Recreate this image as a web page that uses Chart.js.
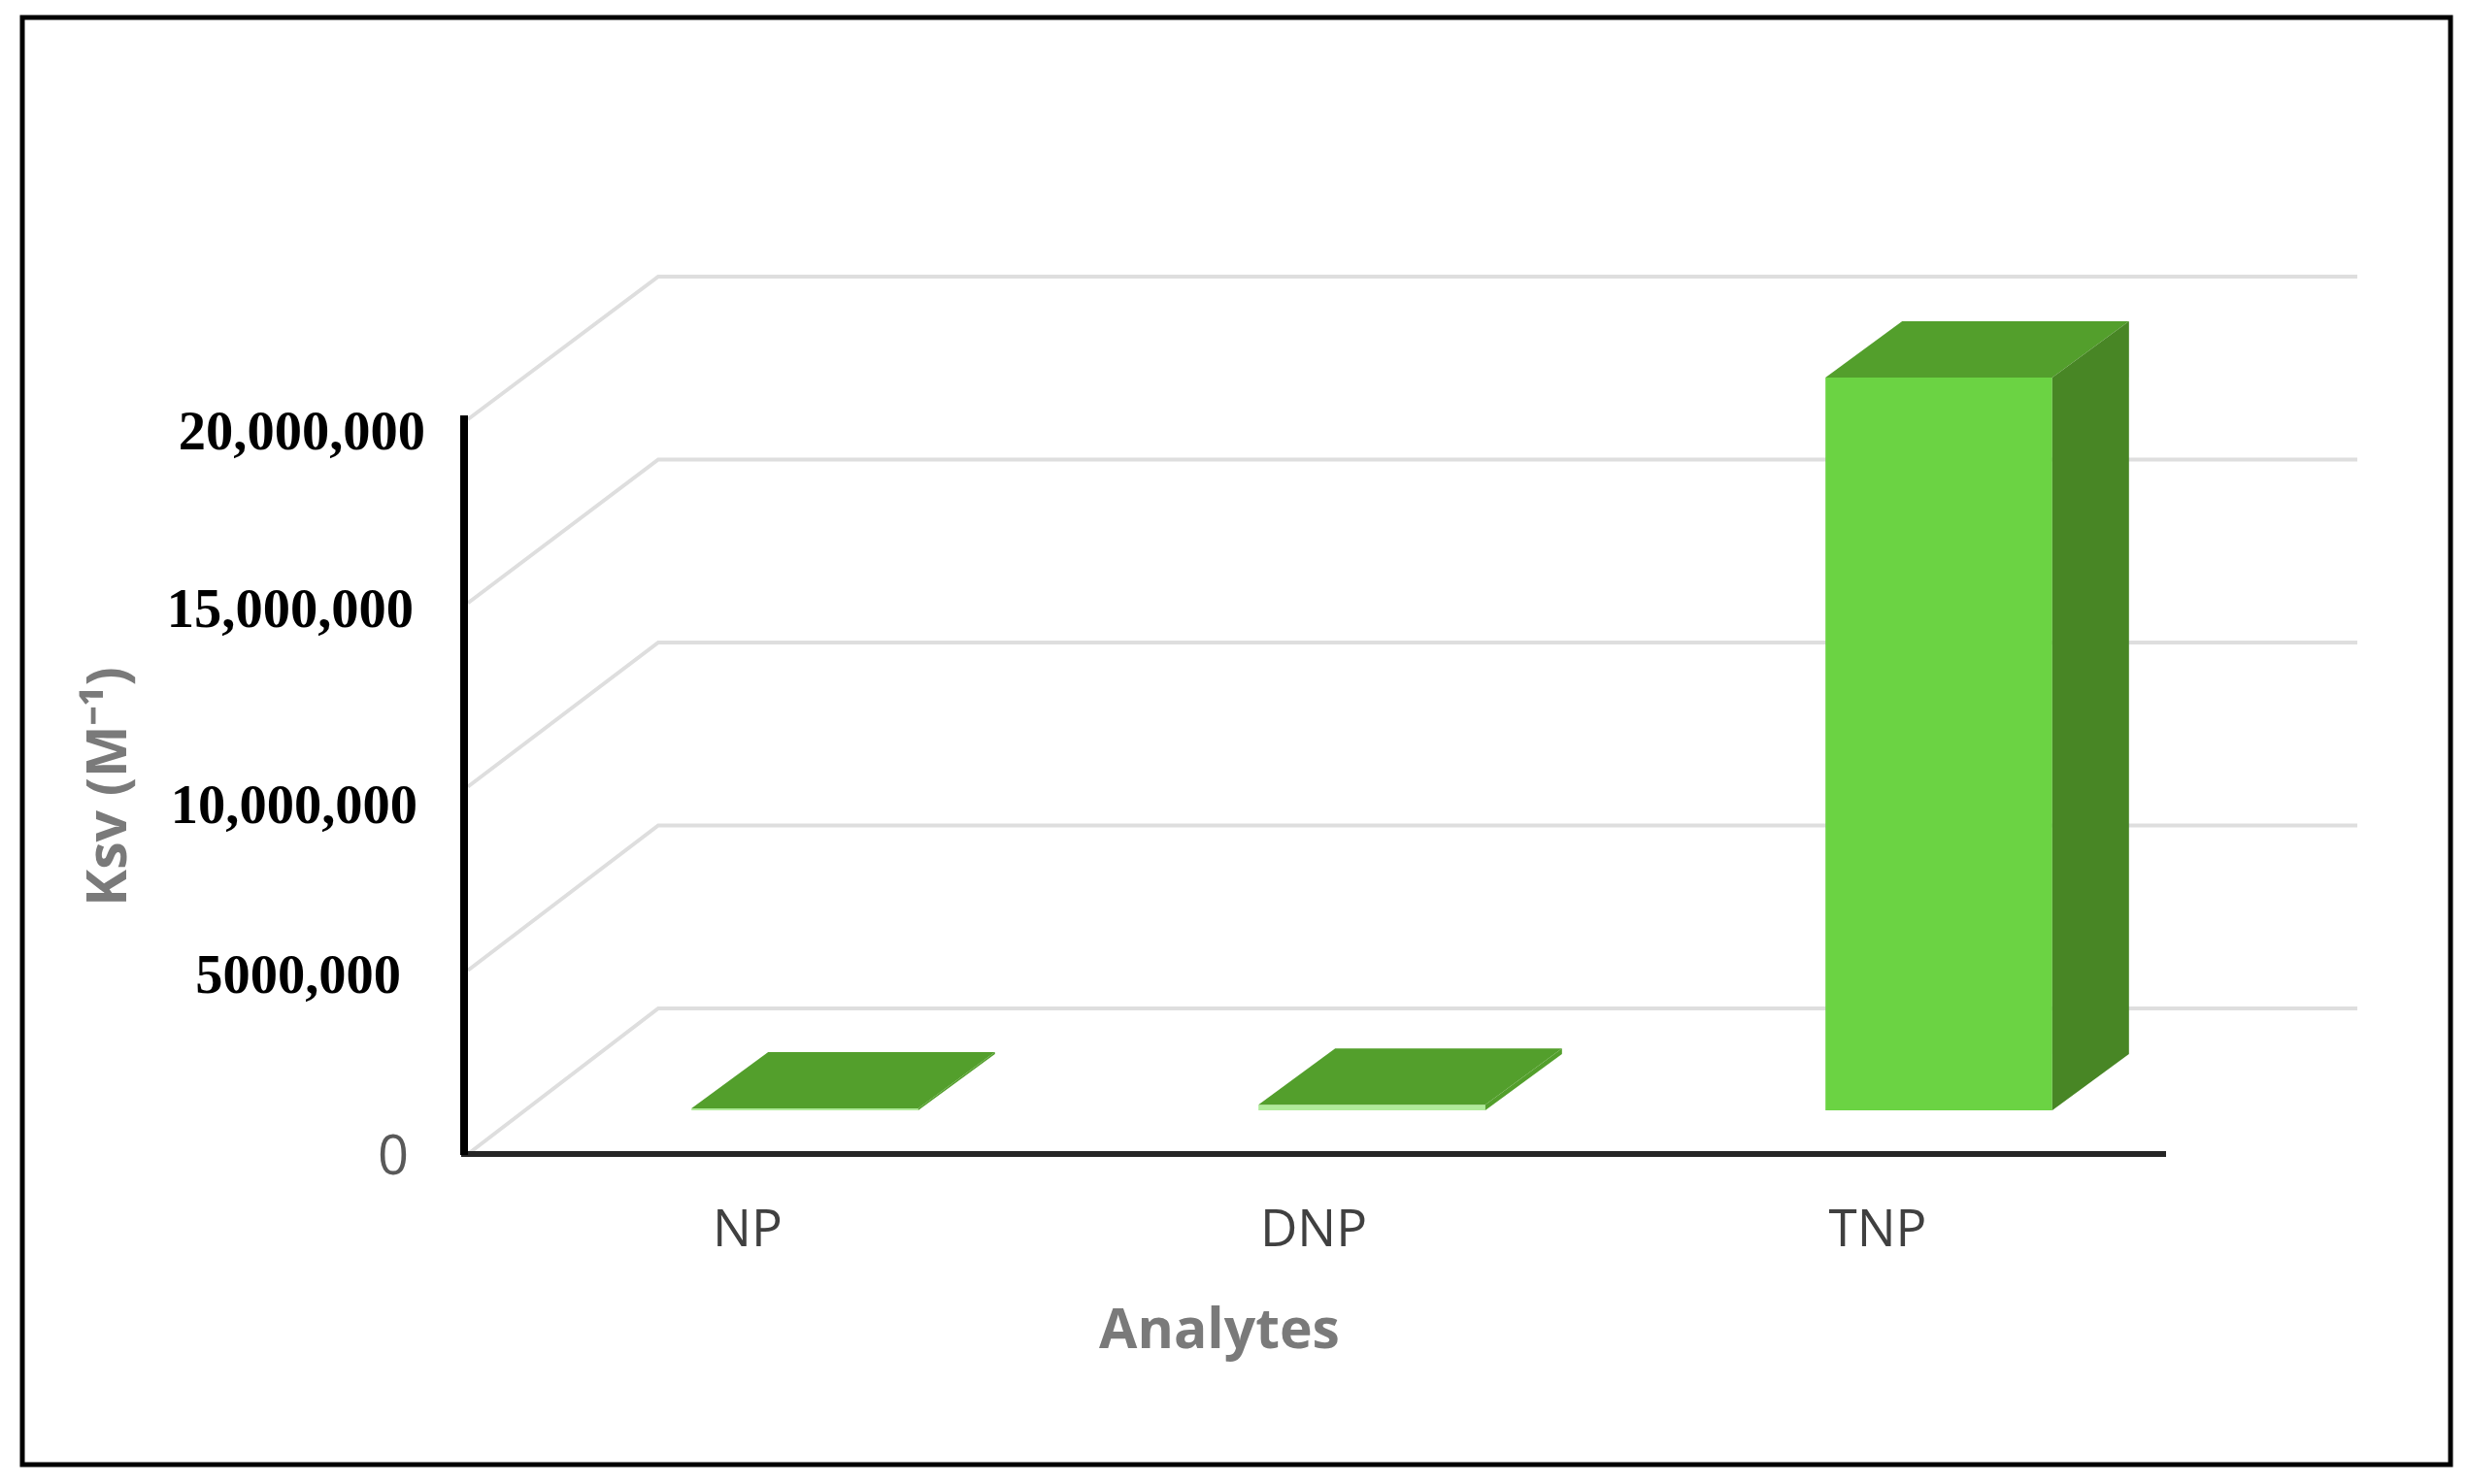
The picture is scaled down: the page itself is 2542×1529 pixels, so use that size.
<!DOCTYPE html>
<html><head><meta charset="utf-8">
<script src="https://cdn.jsdelivr.net/npm/chart.js@4"></script>
<style>html,body{margin:0;padding:0;background:#fff}canvas{display:block;filter:blur(0.6px)}</style>
</head><body><canvas id="c" width="2542" height="1529"></canvas>
<script>
const categories = ['NP', 'DNP', 'TNP'];
const ksvValues = [50000, 150000, 19950000];
const tickLabels = ['0', '5000,000', '10,000,000', '15,000,000', '20,000,000'];
const xTitle = 'Analytes';
const yTitle = 'Ksv (M\u207B\u00B9)';

const tickShift = [[-57, 5], [-65, 9], [-48, 23], [-52, 10], [-40, 16]];
const xTickShift = [0, -1, -4];
const depth = {bx: 59, by: -45, dx: 79, dy: -58, gx: 200, gy: -147, gyScale: 0.996, gridRight: 2428};
const colors = {front: '#6BD343', thin: '#B0EB9A', top: '#539F2C', side: '#488625', grid: '#DEDEDE'};
const thinBarLimit = 10;
const barFills = [colors.thin, colors.thin, colors.front];
const isZero = c => !!c.tick && c.tick.value === 0;

const look3d = {
  id: 'look3d',
  beforeDraw(chart) {
    const {ctx, scales: {x, y}} = chart;
    ctx.save();
    ctx.strokeStyle = '#000'; ctx.lineWidth = 5;
    ctx.strokeRect(23, 18, 2501, 1491);
    ctx.restore();
    // fake depth: lines run from the front plane back along the floor and walls
    const topPx = y.getPixelForValue(y.max);
    ctx.save();
    ctx.strokeStyle = colors.grid; ctx.lineWidth = 4;
    y.ticks.forEach(t => {
      const p = y.getPixelForValue(t.value);
      const back = topPx + depth.gy + (p - topPx) * depth.gyScale;
      ctx.beginPath();
      ctx.moveTo(x.left + 4, p);
      ctx.lineTo(x.left + depth.gx, back);
      ctx.lineTo(depth.gridRight, back);
      ctx.stroke();
    });
    ctx.restore();
    y.getLabelItems().forEach((item, i) => {
      if (item._moved) return;
      item._moved = true;
      item.options.translation[0] += tickShift[i][0];
      item.options.translation[1] += tickShift[i][1];
    });
    x.getLabelItems().forEach((item, i) => {
      if (item._moved) return;
      item._moved = true;
      item.options.translation[0] += xTickShift[i];
    });
  },
  beforeDatasetDraw(chart) {
    chart.ctx.save();
    chart.ctx.translate(depth.bx, depth.by);
  },
  afterDatasetDraw(chart, args) {
    const ctx = chart.ctx;
    args.meta.data.forEach(b => {
      const l = b.x - b.width / 2, r = b.x + b.width / 2, top = b.y, base = b.base;
      ctx.fillStyle = colors.top;
      ctx.beginPath();
      ctx.moveTo(l, top); ctx.lineTo(l + depth.dx, top + depth.dy);
      ctx.lineTo(r + depth.dx, top + depth.dy); ctx.lineTo(r, top);
      ctx.closePath(); ctx.fill();
      ctx.fillStyle = (base - top) < thinBarLimit ? colors.top : colors.side;
      ctx.beginPath();
      ctx.moveTo(r, top); ctx.lineTo(r + depth.dx, top + depth.dy);
      ctx.lineTo(r + depth.dx, base + depth.dy); ctx.lineTo(r, base);
      ctx.closePath(); ctx.fill();
    });
    ctx.restore();
  },
  afterLayout(chart) {
    const x = chart.scales.x;
    if (x._titleShifted) return;
    x._titleShifted = true;
    const orig = x.drawTitle;
    x.drawTitle = function () {
      const c = this.ctx;
      c.save(); c.translate(-98, 0);
      orig.call(this);
      c.restore();
    };
  }
};

new Chart(document.getElementById('c'), {
  type: 'bar',
  data: {
    labels: categories,
    datasets: [{
      label: 'Ksv',
      data: ksvValues,
      backgroundColor: barFills,
      borderWidth: 0,
      categoryPercentage: 1,
      barPercentage: 0.4,
      clip: false
    }]
  },
  plugins: [look3d],
  options: {
    responsive: false,
    animation: false,
    devicePixelRatio: 1,
    layout: {padding: {left: 0, top: 432, right: 312, bottom: 0}},
    plugins: {legend: {display: false}, tooltip: {enabled: false}},
    scales: {
      x: {
        grid: {display: false, drawTicks: false},
        border: {display: true, color: '#262626', width: 6},
        ticks: {font: {family: 'Open Sans', size: 53}, color: '#404040', padding: 48, maxRotation: 0},
        title: {display: true, text: xTitle, color: '#7A7A7A', font: {family: 'Open Sans', size: 57, weight: 'bold'}, padding: {top: 0, bottom: 122}},
        afterFit(s) { s.height = 340; }
      },
      y: {
        min: 0, max: 20000000,
        grid: {display: false, drawTicks: false},
        border: {display: true, color: '#000', width: 8},
        ticks: {
          stepSize: 5000000,
          autoSkip: false,
          padding: 0,
          callback: (v, i) => tickLabels[i],
          color: c => isZero(c) ? '#595959' : '#000',
          font: c => isZero(c)
            ? {family: 'Open Sans', size: 56}
            : {family: 'Liberation Serif', size: 56.5, weight: 'bold'}
        },
        title: {display: true, text: yTitle, color: '#7A7A7A', font: {family: 'Open Sans', size: 57, weight: 'bold'}, padding: {top: 80, bottom: 0}},
        afterFit(s) { s.width = 478; }
      }
    }
  }
});
</script></body></html>
